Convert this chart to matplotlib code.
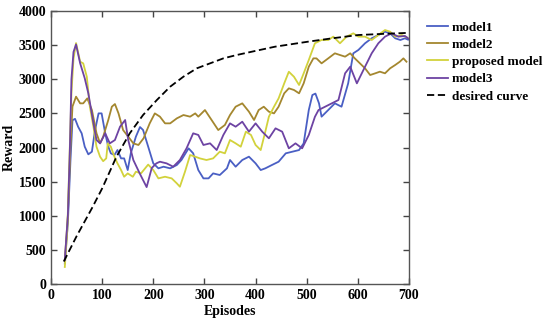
import matplotlib
matplotlib.use('Agg')
import matplotlib.pyplot as plt

# Giá trị
ep_m1 = [27, 33, 38, 42, 47, 53, 60, 66, 73, 80, 86, 93, 99, 106, 112, 117, 124, 130, 137, 143,
         150, 156, 166, 174, 180, 190, 200, 210, 220, 233, 246, 255, 269, 278, 288, 298, 308, 317,
         330, 344, 350, 361, 374, 387, 400, 410, 419, 432, 445, 459, 472, 485, 494, 504, 511, 517,
         524, 529, 542, 555, 568, 581, 591, 601, 614, 627, 640, 653, 663, 673, 683, 692, 698]
model1 = [300, 900, 1800, 2400, 2420, 2305, 2208, 2012, 1900, 1939, 2250, 2500, 2500, 2208, 2012,
          1915, 1890, 1963, 1841, 1841, 1670, 1915, 2159, 2300, 2257, 2013, 1768, 1695, 1719, 1695,
          1744, 1817, 1988, 1915, 1670, 1548, 1548, 1621, 1597, 1695, 1817, 1719, 1817, 1866, 1768,
          1670, 1695, 1744, 1792, 1915, 1939, 1963, 2061, 2549, 2769, 2790, 2647, 2452, 2549, 2647,
          2598, 2940, 3380, 3429, 3527, 3600, 3648, 3697, 3673, 3600, 3575, 3600, 3580]

ep_m2 = [27, 33, 38, 42, 49, 57, 63, 71, 80, 89, 96, 102, 112, 119, 125, 132, 141, 151, 161, 171,
         181, 193, 203, 213, 223, 233, 246, 259, 272, 282, 288, 301, 314, 327, 340, 350, 361, 374,
         387, 397, 406, 416, 426, 436, 445, 456, 465, 475, 485, 494, 504, 513, 519, 529, 542, 555,
         565, 575, 585, 594, 604, 614, 624, 634, 643, 653, 663, 673, 682, 689, 695]
model2 = [350, 1000, 2000, 2600, 2745, 2647, 2647, 2720, 2549, 2208, 2061, 2159, 2403, 2598, 2637,
          2500, 2256, 2159, 2061, 2037, 2135, 2354, 2500, 2452, 2354, 2354, 2427, 2476, 2452, 2500,
          2452, 2549, 2403, 2256, 2330, 2476, 2598, 2647, 2525, 2403, 2549, 2598, 2525, 2500, 2598,
          2794, 2867, 2843, 2794, 2940, 3184, 3306, 3306, 3233, 3306, 3380, 3355, 3331, 3380, 3306,
          3233, 3160, 3062, 3087, 3111, 3087, 3160, 3209, 3257, 3306, 3257]

ep_pm = [27, 32, 36, 40, 44, 49, 57, 63, 70, 76, 83, 89, 96, 102, 108, 111, 117, 124, 130, 137,
         143, 150, 160, 166, 176, 190, 200, 210, 223, 236, 246, 252, 262, 272, 282, 291, 304, 317,
         330, 340, 350, 361, 371, 381, 391, 400, 410, 419, 426, 436, 445, 456, 465, 475, 485, 494,
         504, 516, 529, 542, 552, 565, 578, 591, 601, 614, 627, 640, 653, 663, 673, 686, 696]
proposed = [250, 800, 1800, 2800, 3300, 3530, 3257, 3233, 3038, 2598, 2305, 2012, 1865, 1800, 1841,
            2061, 2012, 1866, 1768, 1670, 1572, 1621, 1572, 1646, 1621, 1750, 1670, 1548, 1572, 1548,
            1475, 1426, 1646, 1890, 1866, 1841, 1817, 1841, 1939, 1915, 2110, 2061, 2012, 2232, 2184,
            2037, 1963, 2232, 2452, 2598, 2720, 2940, 3110, 3037, 2916, 3086, 3282, 3527, 3575, 3575,
            3624, 3527, 3624, 3673, 3624, 3624, 3575, 3648, 3721, 3697, 3624, 3648, 3612]

ep_m3 = [27, 33, 37, 40, 44, 49, 57, 66, 73, 83, 89, 96, 106, 115, 125, 135, 145, 151, 161, 174,
         187, 197, 206, 213, 226, 239, 252, 265, 278, 288, 298, 311, 324, 337, 350, 361, 374, 387,
         400, 413, 426, 439, 452, 465, 478, 491, 504, 516, 523, 536, 549, 562, 575, 585, 598, 614,
         627, 640, 653, 666, 679, 692, 698]
model3 = [350, 1000, 2000, 3000, 3400, 3510, 3234, 3014, 2794, 2354, 2110, 2061, 2208, 2061, 2110,
          2305, 2403, 2110, 1817, 1612, 1420, 1700, 1768, 1792, 1768, 1719, 1817, 1988, 2208, 2184,
          2037, 2061, 1963, 2184, 2354, 2305, 2378, 2232, 2354, 2232, 2135, 2281, 2232, 1988, 2061,
          1988, 2183, 2450, 2549, 2598, 2647, 2696, 3087, 3184, 2940, 3184, 3380, 3527, 3624, 3673,
          3624, 3634, 3600]

ep_des = [25, 50, 80, 100, 128, 154, 180, 207, 233, 259, 285, 311, 337, 363, 402, 438, 503, 550,
          601, 650, 700]
desired = [330, 700, 1110, 1400, 1865, 2208, 2476, 2696, 2891, 3038, 3160, 3233, 3306, 3355, 3419,
           3477, 3551, 3600, 3648, 3665, 3680]

plt.rcParams['font.family'] = ['Liberation Serif', 'DejaVu Serif']
plt.rcParams['font.weight'] = 'bold'
plt.rcParams['font.size'] = 10

fig = plt.figure(figsize=(5.5, 3.28), dpi=100)
ax = fig.add_axes([0.0927, 0.134, 0.651, 0.8325])

lw = 1.3
ax.plot(ep_m1, model1, color='#4a5fc4', lw=lw, label='model1')
ax.plot(ep_m2, model2, color='#a4872f', lw=lw, label='model2')
ax.plot(ep_pm, proposed, color='#d2d23c', lw=lw, label='proposed model')
ax.plot(ep_m3, model3, color='#6d43a3', lw=lw, label='model3')
ax.plot(ep_des, desired, color='black', lw=lw, dashes=(4, 2), label='desired curve')

ax.set_xlim(0, 700)
ax.set_ylim(0, 4000)
ax.set_xticks(range(0, 701, 100))
ax.set_yticks(range(0, 4001, 500))
ax.tick_params(direction='in', top=True, right=True, length=4, width=1, colors='#444444',
               labelcolor='black')
for s in ax.spines.values():
    s.set_color('#555555')
    s.set_linewidth(1)

ax.set_xlabel('Episodes', fontweight='bold', labelpad=2)
ax.set_ylabel('Reward', fontweight='bold', labelpad=2)

fig.legend(loc='upper left', bbox_to_anchor=(0.765, 0.955), frameon=False,
           handlelength=1.6, handletextpad=0.25, labelspacing=0.38, borderpad=0,
           prop={'family': 'Liberation Serif', 'weight': 'bold', 'size': 9.5})

fig.savefig('out.png', dpi=100)
